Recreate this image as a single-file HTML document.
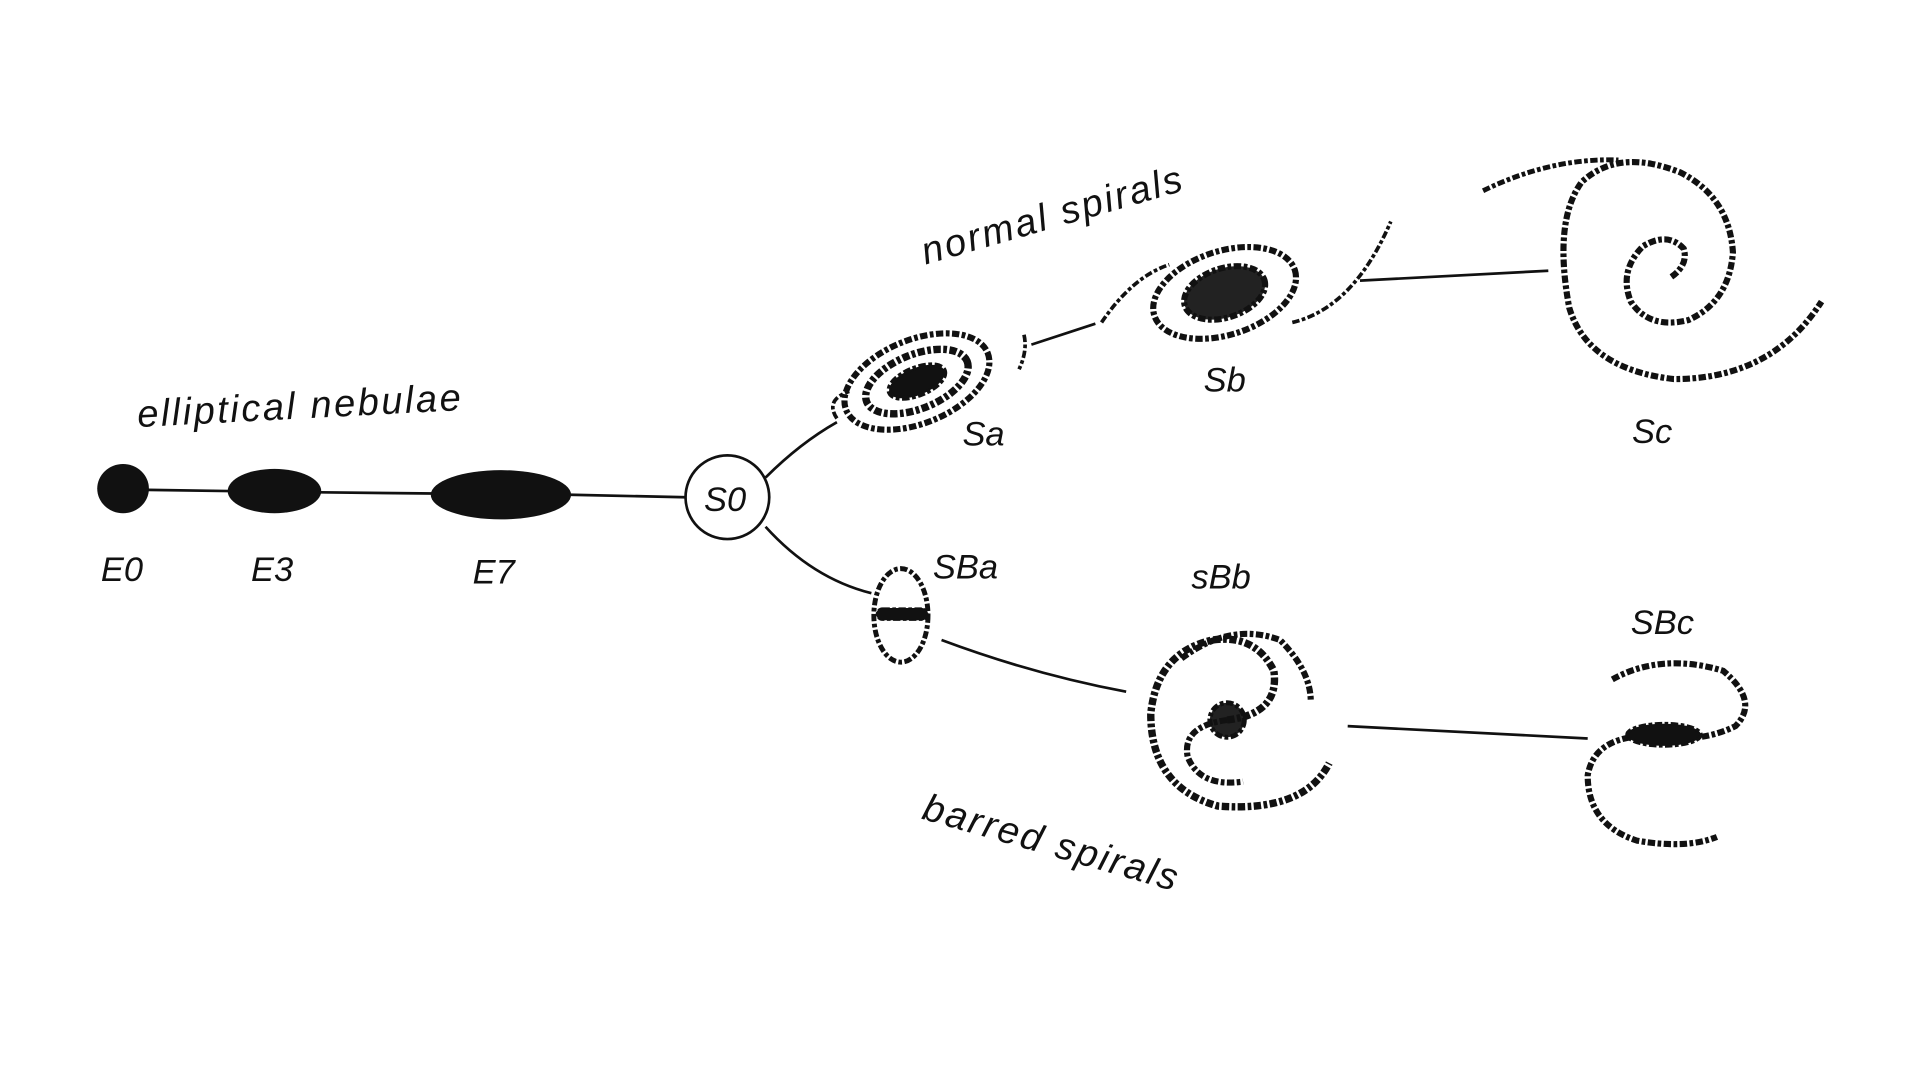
<!DOCTYPE html>
<html><head><meta charset="utf-8"><style>
html,body{margin:0;padding:0;background:#fff;width:1920px;height:1080px;overflow:hidden}
svg{display:block}
text{font-family:"Liberation Sans",sans-serif;font-style:italic;fill:#111}
</style></head><body>
<svg width="1920" height="1080" viewBox="0 0 1560 877.5" preserveAspectRatio="none" xmlns="http://www.w3.org/2000/svg">
<rect width="1560" height="877.5" fill="#fff"/>
<g stroke="#111" stroke-width="2.2" fill="none">
<line x1="120" y1="398" x2="186" y2="399"/>
<line x1="260" y1="400" x2="352" y2="401"/>
<line x1="463" y1="402" x2="557" y2="404"/>
<path d="M622,388 Q650,360 680,343"/>
<path d="M838,280 L890,263"/>
<path d="M1105,228 L1258,220"/>
<path d="M622,428 Q660,470 708,482"/>
<path d="M765,520 Q840,548 915,562"/>
<path d="M1095,590 L1290,600"/>
</g>
<ellipse cx="100" cy="397" rx="21" ry="20" fill="#111"/>
<ellipse cx="223" cy="399" rx="38" ry="18" fill="#111"/>
<ellipse cx="407" cy="402" rx="57" ry="20" fill="#111"/>
<circle cx="591" cy="404" r="34" fill="#fff" stroke="#111" stroke-width="2.2"/>
<text x="572" y="415" font-size="28">S0</text>
<g stroke="#111" fill="none" stroke-dasharray="6 2 3 2">
<!-- Sa -->
<g transform="rotate(-22 745 310)">
<ellipse cx="745" cy="310" rx="62" ry="34" stroke-width="5"/>
<ellipse cx="745" cy="310" rx="44" ry="22" stroke-width="6"/>
<ellipse cx="745" cy="310" rx="24" ry="11" fill="#111" stroke-width="4"/>
</g>
<path d="M680,340 Q670,325 690,318 M832,272 Q835,285 828,300" stroke-width="3"/>
<!-- Sb -->
<g transform="rotate(-18 995 238)">
<ellipse cx="995" cy="238" rx="60" ry="34" stroke-width="5"/>
<ellipse cx="995" cy="238" rx="34" ry="20" fill="#222" stroke-width="5"/>
</g>
<path d="M895,262 Q920,225 950,215 M1050,262 Q1100,250 1130,180" stroke-width="3"/>
<!-- Sc -->
<path d="M1358,225 Q1372,215 1368,202 Q1355,188 1335,200 Q1315,220 1325,245 Q1340,268 1372,260 Q1405,245 1408,205 Q1405,160 1365,140 Q1315,120 1285,148 Q1262,180 1275,250 Q1290,300 1360,308 Q1440,308 1480,245" stroke-width="5"/>
<path d="M1205,155 Q1260,128 1315,130" stroke-width="4"/>
<!-- SBa -->
<ellipse cx="732" cy="500" rx="22" ry="38" stroke-width="4"/>
<rect x="712" y="494" width="42" height="10" rx="5" fill="#111"/>
<!-- SBb -->
<circle cx="997" cy="585" r="14" fill="#222" stroke-width="4"/>
<path d="M997,585 Q1040,580 1035,545 Q1020,515 985,520 Q940,530 935,580 Q935,640 990,655 Q1060,660 1080,620" stroke-width="6"/>
<path d="M997,585 Q960,590 965,615 Q975,640 1010,635 M960,535 Q1000,505 1040,520 Q1065,545 1065,570" stroke-width="5"/>
<!-- SBc -->
<path d="M1310,552 Q1350,530 1400,545 Q1430,570 1410,590 Q1380,605 1335,598 Q1295,600 1290,630 Q1290,670 1330,683 Q1370,690 1395,680" stroke-width="5"/>
<ellipse cx="1352" cy="597" rx="30" ry="9" fill="#111" stroke-width="3"/>
</g>
<text x="82" y="472" font-size="28">E0</text>
<text x="204" y="472" font-size="28">E3</text>
<text x="384" y="474" font-size="28">E7</text>
<text x="112" y="347" font-size="31" transform="rotate(-3 112 347)" letter-spacing="2">elliptical nebulae</text>
<text x="752" y="215" font-size="31" transform="rotate(-16 752 215)" letter-spacing="2">normal spirals</text>
<text x="748" y="665" font-size="31" transform="rotate(16 748 665)" letter-spacing="2">barred spirals</text>
<text x="782" y="362" font-size="28">Sa</text>
<text x="978" y="318" font-size="28">Sb</text>
<text x="1326" y="360" font-size="28">Sc</text>
<text x="758" y="470" font-size="28">SBa</text>
<text x="968" y="478" font-size="28">sBb</text>
<text x="1325" y="515" font-size="28">SBc</text>
</svg>
</body></html>
